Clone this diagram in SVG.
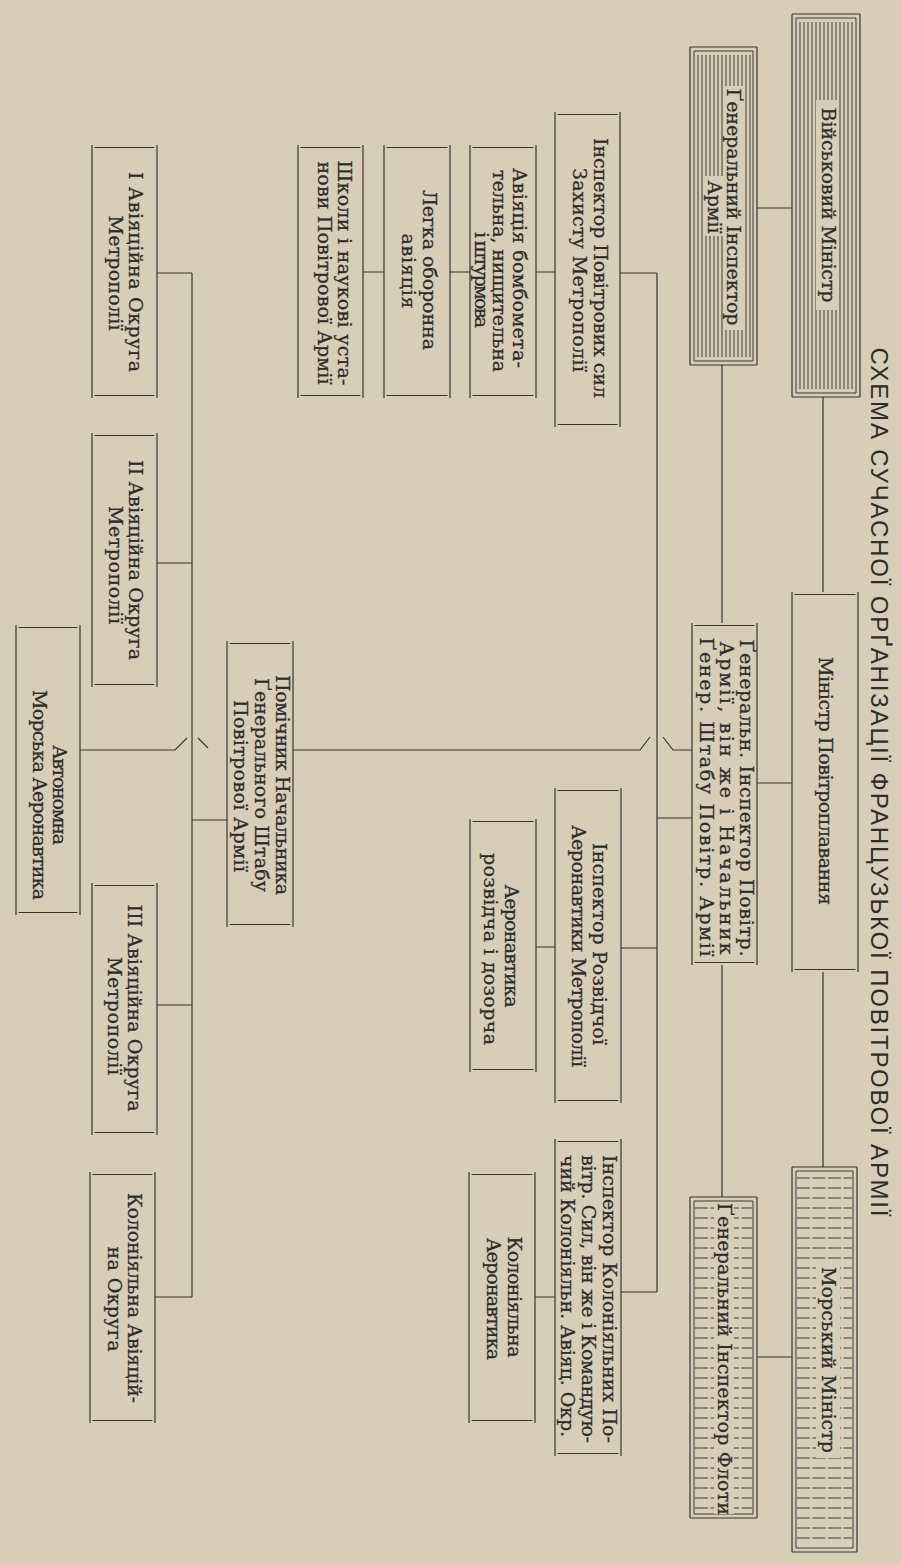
<svg xmlns="http://www.w3.org/2000/svg" width="901" height="1565" viewBox="0 0 901 1565">
<defs>
<style>
.bg{fill:#d8cdb7}
.clr{fill:#d8cdb7}
.box{fill:none;stroke:#353535;stroke-width:1.2}
.hat{fill:none;stroke:#3a3a3a;stroke-width:1}
.dash{fill:none;stroke:#3a3a3a;stroke-width:1;stroke-dasharray:13 2.5}
.ln{fill:none;stroke:#353535;stroke-width:1.2}
.t{font-family:"DejaVu Serif","Liberation Serif",serif;font-size:19px;fill:#2c2c2c;stroke:#2c2c2c;stroke-width:0.3;text-anchor:middle}
.title{font-family:"Liberation Sans","DejaVu Sans",sans-serif;font-size:24px;fill:#2c2c2c;text-anchor:middle}
</style>
</defs>
<rect class="bg" x="0" y="0" width="901" height="1565"/>

<text class="title" transform="translate(871,782) rotate(90)" textLength="869">СХЕМА СУЧАСНОЇ ОРҐАНІЗАЦІЇ ФРАНЦУЗЬКОЇ ПОВІТРОВОЇ АРМІЇ</text>

<g id="connectors">
<path class="ln" d="M823 397V592M823 972V1167M722 365V623M722 965V1197M757 208H792M757 783H792M757 1357H792"/>
<path class="ln" d="M657 273V1292M620 273H657M657 818H692M621 948H657M621 1292H657"/>
<path class="ln" d="M363 272H384M450 272H470M536 272H555M536 947H555M535 1297H555"/>
<path class="ln" d="M692 750H673L663 737M650 737L640 750H293"/>
<path class="ln" d="M192 273V1297M157 273H192M157 563H192M157 1005H192M155 1297H192M192 820H227"/>
<path class="ln" d="M80 750H175L187 738M198 738L208 748"/>
</g>

<g id="n-voen">
<path class="box" d="M792 14V397M860 14V397M792 14H860M792 397H860"/>
<path class="hat" d="M796 18V393M856 18V393M796 18H856M796 393H856"/>
<path class="hat" d="M800 22V389M804 22V389M808 22V389M812 22V389M816 22V389M820 22V389M824 22V389M828 22V389M832 22V389M836 22V389M840 22V389M844 22V389M848 22V389M852 22V389"/>
<rect class="clr" x="816" y="100" width="23" height="210"/>
<text class="t" transform="translate(822,205) rotate(90)" textLength="195">Військовий Міністр</text>
</g>

<g id="n-gia">
<path class="box" d="M690 47V365M757 47V365M690 47H757M690 365H757"/>
<path class="hat" d="M694 51V361M753 51V361M694 51H753M694 361H753"/>
<path class="hat" d="M698 55V357M702 55V357M706 55V357M710 55V357M714 55V357M718 55V357M722 55V357M726 55V357M730 55V357M734 55V357M738 55V357M742 55V357M746 55V357M750 55V357"/>
<rect class="clr" x="723" y="86" width="21" height="244"/>
<rect class="clr" x="705" y="176" width="19" height="60"/>
<text class="t" transform="translate(727,207) rotate(90)" textLength="237">Ґенеральний Інспектор</text>
<text class="t" transform="translate(708,207) rotate(90)" textLength="53">Армії</text>
</g>

<g id="n-ipz">
<path class="box" d="M555 112V427M620 112V427M557.5 114.5H617.5M557.5 424.5H617.5"/>
<text class="t" transform="translate(594,268) rotate(90)" textLength="260">Інспектор Повітрових сил</text>
<text class="t" transform="translate(573,270) rotate(90)" textLength="204">Захисту Метрополії</text>
</g>

<g id="n-bomb">
<path class="box" d="M470 145V398M536 145V398M472.5 147.5H533.5M472.5 395.5H533.5"/>
<text class="t" transform="translate(513,268) rotate(90)" textLength="200">Авіяція бомбомета-</text>
<text class="t" transform="translate(493,271) rotate(90)" textLength="202">тельна, нищительна</text>
<text class="t" transform="translate(475,280) rotate(90)" textLength="96">і штурмова</text>
</g>

<g id="n-legka">
<path class="box" d="M384 145V398M450 145V398M386.5 147.5H447.5M386.5 395.5H447.5"/>
<text class="t" transform="translate(423,270) rotate(90)" textLength="160">Легка оборонна</text>
<text class="t" transform="translate(402,271) rotate(90)" textLength="75">авіяція</text>
</g>

<g id="n-shkoly">
<path class="box" d="M298 145V398M363 145V398M300.5 147.5H360.5M300.5 395.5H360.5"/>
<text class="t" transform="translate(338,273) rotate(90)" textLength="225">Школи і наукові уста-</text>
<text class="t" transform="translate(318,273) rotate(90)" textLength="223">нови Повітрової Армії</text>
</g>

<g id="n-okr1">
<path class="box" d="M92 145V398M157 145V398M94.5 147.5H154.5M94.5 395.5H154.5"/>
<text class="t" transform="translate(129,272) rotate(90)" textLength="200">I Авіяційна Округа</text>
<text class="t" transform="translate(109,273) rotate(90)" textLength="115">Метрополії</text>
</g>

<g id="n-okr2">
<path class="box" d="M92 433V687M157 433V687M94.5 435.5H154.5M94.5 684.5H154.5"/>
<text class="t" transform="translate(129,560) rotate(90)" textLength="200">II Авіяційна Округа</text>
<text class="t" transform="translate(109,565) rotate(90)" textLength="118">Метрополії</text>
</g>

<g id="n-avt">
<path class="box" d="M16 625V915M80 625V915M18.5 627.5H77.5M18.5 912.5H77.5"/>
<text class="t" transform="translate(53,795) rotate(90)" textLength="100">Автономна</text>
<text class="t" transform="translate(33,795) rotate(90)" textLength="210">Морська Аеронавтика</text>
</g>

<g id="n-okr3">
<path class="box" d="M92 883V1135M157 883V1135M94.5 885.5H154.5M94.5 1132.5H154.5"/>
<text class="t" transform="translate(128,1008) rotate(90)" textLength="207">III Авіяційна Округа</text>
<text class="t" transform="translate(108,1016) rotate(90)" textLength="118">Метрополії</text>
</g>

<g id="n-kolokr">
<path class="box" d="M90 1172V1423M155 1172V1423M92.5 1174.5H152.5M92.5 1420.5H152.5"/>
<text class="t" transform="translate(128,1298) rotate(90)" textLength="210">Колоніяльна Авіяцій-</text>
<text class="t" transform="translate(108,1299) rotate(90)" textLength="105">на Округа</text>
</g>

<g id="n-pomich">
<path class="box" d="M227 641V927M293 641V927M229.5 643.5H290.5M229.5 924.5H290.5"/>
<text class="t" transform="translate(276,785) rotate(90)" textLength="220">Помічник Начальника</text>
<text class="t" transform="translate(255,785) rotate(90)" textLength="214">Ґенерального Штабу</text>
<text class="t" transform="translate(234,786) rotate(90)" textLength="172">Повітрової Армії</text>
</g>

<g id="n-minpov">
<path class="box" d="M792 592V972M858 592V972M794.5 594.5H855.5M794.5 969.5H855.5"/>
<text class="t" transform="translate(819,781) rotate(90)" textLength="248">Міністр Повітроплавання</text>
</g>

<g id="n-gip">
<path class="box" d="M692 623V965M757 623V965M694.5 625.5H754.5M694.5 962.5H754.5"/>
<text class="t" transform="translate(740,798) rotate(90)" textLength="317">Ґенеральн. Інспектор Повітр.</text>
<text class="t" transform="translate(720,798) rotate(90)" textLength="313">Армії, він же і Начальник</text>
<text class="t" transform="translate(700,797) rotate(90)" textLength="319">Ґенер. Штабу Повітр. Армії</text>
</g>

<g id="n-ird">
<path class="box" d="M555 788V1103M621 788V1103M557.5 790.5H618.5M557.5 1100.5H618.5"/>
<text class="t" transform="translate(593,944) rotate(90)" textLength="202">Інспектор Розвідчої</text>
<text class="t" transform="translate(572,946) rotate(90)" textLength="242">Аеронавтики Метрополії</text>
</g>

<g id="n-aerrozv">
<path class="box" d="M470 819V1072M536 819V1072M472.5 821.5H533.5M472.5 1069.5H533.5"/>
<text class="t" transform="translate(505,946) rotate(90)" textLength="123">Аеронавтика</text>
<text class="t" transform="translate(484,949) rotate(90)" textLength="192">розвідча і дозорча</text>
</g>

<g id="n-ikol">
<path class="box" d="M555 1139V1456M621 1139V1456M557.5 1141.5H618.5M557.5 1453.5H618.5"/>
<text class="t" transform="translate(603,1299) rotate(90)" textLength="288">Інспектор Колоніяльних По-</text>
<text class="t" transform="translate(582,1299) rotate(90)" textLength="288">вітр. Сил, він же і Командую-</text>
<text class="t" transform="translate(561,1296) rotate(90)" textLength="282">чий Колоніяльн. Авіяц. Окр.</text>
</g>

<g id="n-kolaer">
<path class="box" d="M469 1172V1423M535 1172V1423M471.5 1174.5H532.5M471.5 1420.5H532.5"/>
<text class="t" transform="translate(508,1297) rotate(90)" textLength="121">Колоніяльна</text>
<text class="t" transform="translate(487,1299) rotate(90)" textLength="122">Аеронавтика</text>
</g>

<g id="n-morm">
<path class="box" d="M792 1167V1552M857 1167V1552M792 1167H857M792 1552H857"/>
<path class="hat" d="M796 1171V1548M853 1171V1548M796 1171H853M796 1548H853"/>
<path class="dash" d="M797 1178H852M797 1188H852M797 1198H852M797 1208H852M797 1218H852M797 1228H852M797 1238H852M797 1248H852M797 1258H852M797 1268H852M797 1278H852M797 1288H852M797 1298H852M797 1308H852M797 1318H852M797 1328H852M797 1338H852M797 1348H852M797 1358H852M797 1368H852M797 1378H852M797 1388H852M797 1398H852M797 1408H852M797 1418H852M797 1428H852M797 1438H852M797 1448H852M797 1458H852M797 1468H852M797 1478H852M797 1488H852M797 1498H852M797 1508H852M797 1518H852M797 1528H852M797 1538H852"/>
<rect class="clr" x="816" y="1262" width="24" height="196"/>
<text class="t" transform="translate(822,1360) rotate(90)" textLength="186">Морський Міністр</text>
</g>

<g id="n-gif">
<path class="box" d="M690 1197V1518M757 1197V1518M690 1197H757M690 1518H757"/>
<path class="hat" d="M694 1201V1514M753 1201V1514M694 1201H753M694 1514H753"/>
<path class="dash" d="M695 1208H752M695 1218H752M695 1228H752M695 1238H752M695 1248H752M695 1258H752M695 1268H752M695 1278H752M695 1288H752M695 1298H752M695 1308H752M695 1318H752M695 1328H752M695 1338H752M695 1348H752M695 1358H752M695 1368H752M695 1378H752M695 1388H752M695 1398H752M695 1408H752M695 1418H752M695 1428H752M695 1438H752M695 1448H752M695 1458H752M695 1468H752M695 1478H752M695 1488H752M695 1498H752M695 1508H752"/>
<rect class="clr" x="714" y="1202" width="20" height="312"/>
<text class="t" transform="translate(718,1359) rotate(90)" textLength="312">Ґенеральний Інспектор Флоти</text>
</g>
</svg>
